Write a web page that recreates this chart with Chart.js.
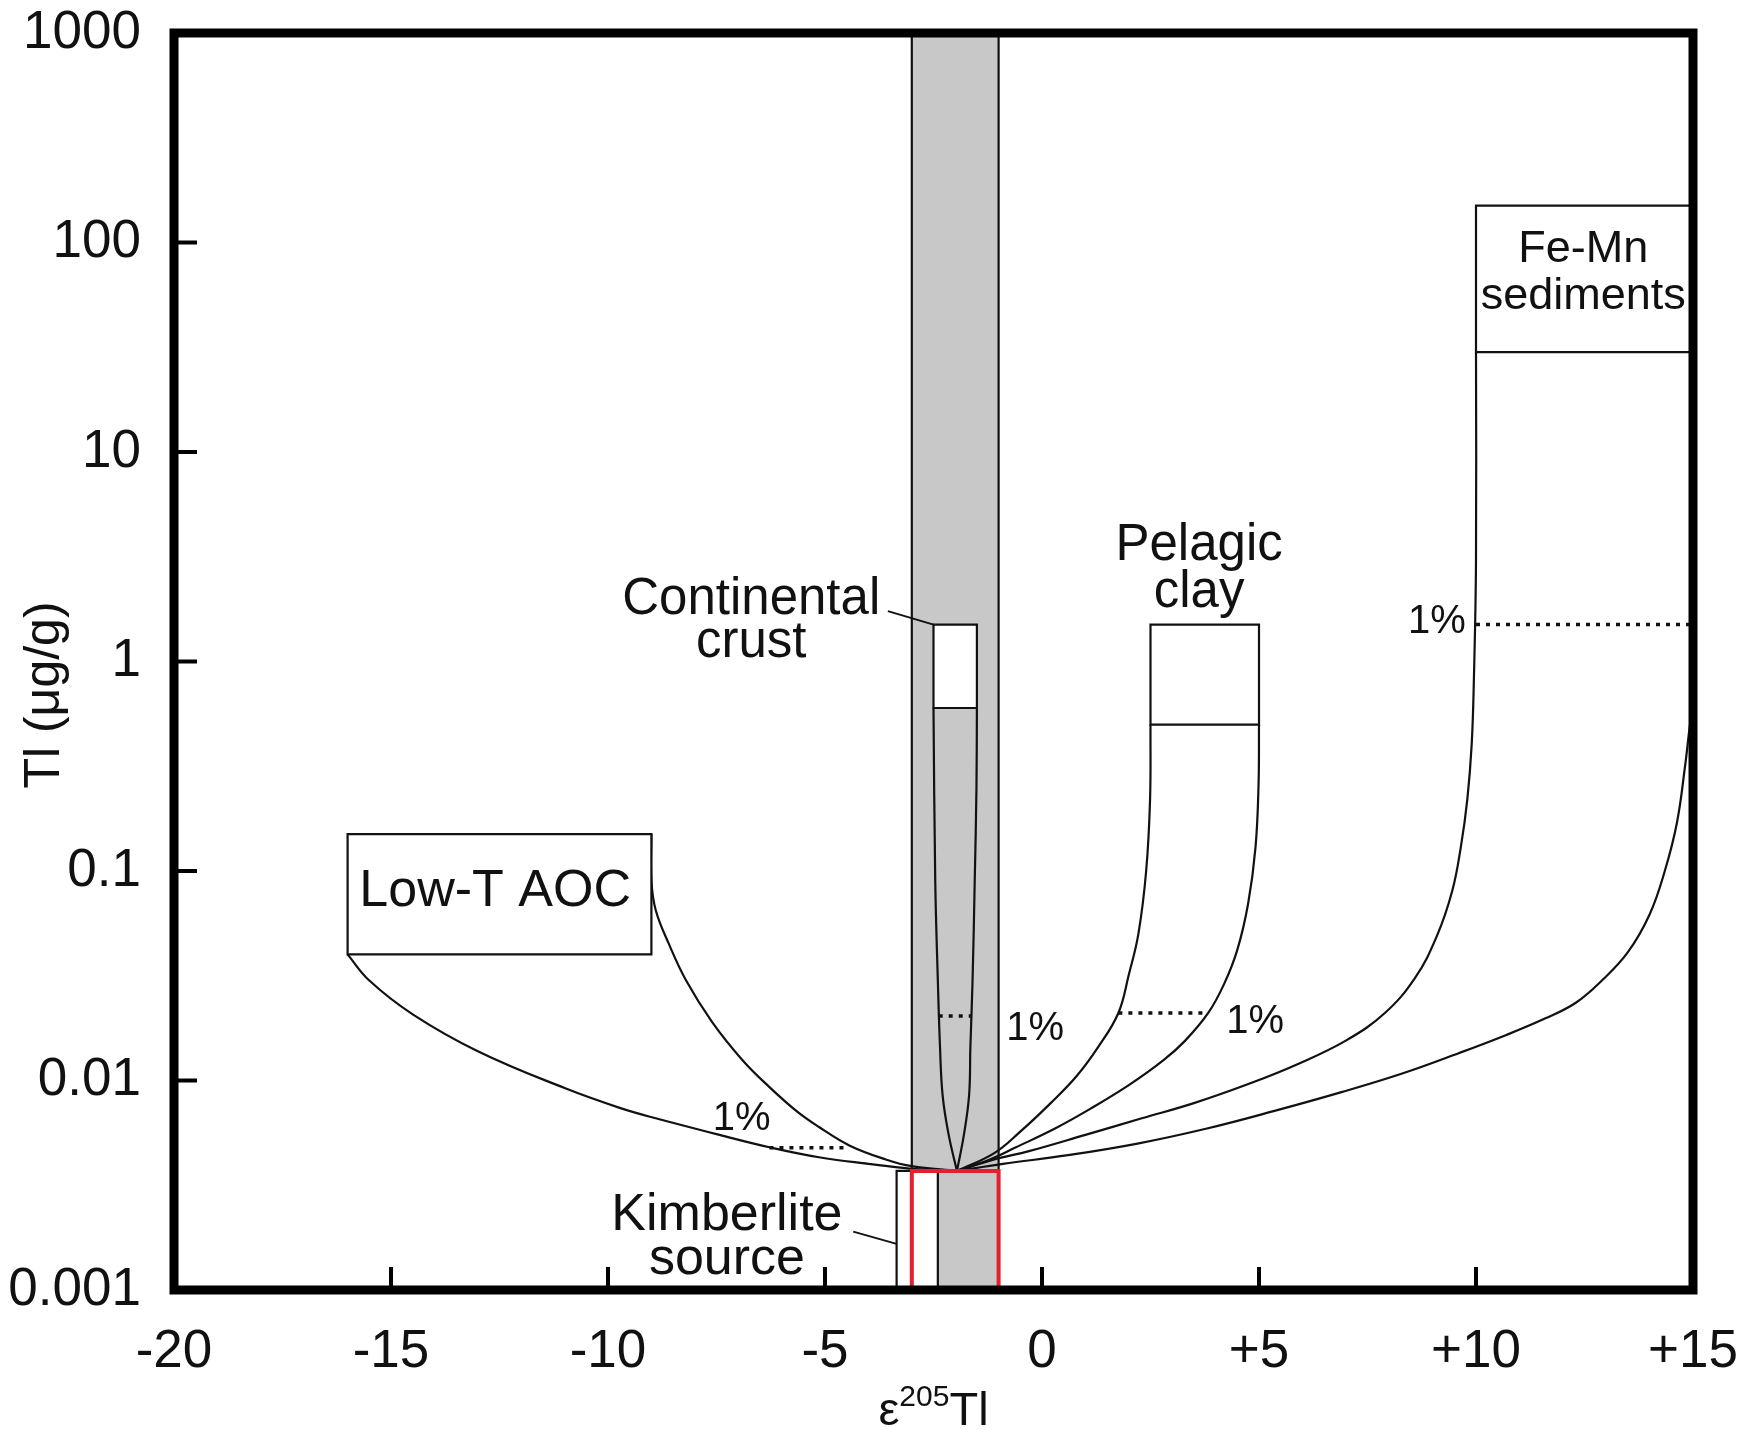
<!DOCTYPE html>
<html>
<head>
<meta charset="utf-8">
<script src="https://cdn.jsdelivr.net/npm/chart.js@4.4.1/dist/chart.umd.min.js"></script>
<style>
html,body{margin:0;padding:0;background:#ffffff;}
canvas{display:block;}
</style>
</head>
<body>
<canvas id="c" width="1745" height="1430" style="width:1745px;height:1430px"></canvas>
<script>
// ---------- axis ticks ----------
const xTickValues = [-20, -15, -10, -5, 0, 5, 10, 15];
const xTickLabels = ['-20', '-15', '-10', '-5', '0', '+5', '+10', '+15'];
const yTickValues = [0.001, 0.01, 0.1, 1, 10, 100, 1000];
const yTickLabels = ['0.001', '0.01', '0.1', '1', '10', '100', '1000'];

// ---------- reservoirs: [xMin, xMax, TlMin, TlMax] ----------
const mantleBand    = [-3, -1, 0.001, 1000];
const mantleBox     = [-3, -1, 0.001, 0.0037];
const kimberliteBox = [-3.35, -2.4, 0.001, 0.0037];
const contCrustBox  = [-2.5, -1.5, 0.6, 1.5];
const lowTAOCBox    = [-16, -9, 0.04, 0.15];
const pelagicBox    = [2.5, 5, 0.5, 1.5];
const feMnBox       = [10, 15, 30, 150];

// ---------- mixing curves [ε205Tl, Tl] ----------
const contCrustLeft  = [[-2.5,0.6],[-2.46,0.09],[-2.40,0.03],[-2.35,0.0145],[-2.29,0.0085],[-2.15,0.0055],[-1.96,0.0037]];
const contCrustRight = [[-1.5,0.6],[-1.51,0.25],[-1.55,0.09],[-1.60,0.03],[-1.65,0.0145],[-1.68,0.0085],[-1.80,0.0055],[-1.96,0.0037]];
const aocLeft  = [[-16,0.04],[-15.5,0.030],[-14.5,0.0207],[-13,0.0138],[-11,0.0092],[-9.73,0.0074],[-8.9,0.0066],[-7.43,0.0055],[-6.28,0.0048],[-5.14,0.0043],[-4.0,0.0040],[-3.05,0.0038],[-1.96,0.0037]];
const aocRight = [[-9,0.15],[-9,0.09],[-8.9,0.065],[-8.6,0.045],[-8.2,0.030],[-7.6,0.019],[-6.9,0.0125],[-6.28,0.0093],[-5.64,0.0071],[-5.14,0.0060],[-4.44,0.0049],[-3.6,0.0042],[-3.0,0.0039],[-1.96,0.0037]];
const pelagicLeft  = [[2.5,0.5],[2.49,0.22],[2.40,0.1],[2.22,0.05],[2.0,0.032],[1.76,0.021],[1.3,0.0145],[0.8,0.0105],[0.2,0.0078],[-0.5,0.0057],[-1.1,0.0045],[-1.96,0.0037]];
const pelagicRight = [[5,0.5],[4.99,0.26],[4.92,0.13],[4.75,0.07],[4.5,0.042],[4.2,0.029],[3.83,0.021],[3.3,0.0155],[2.8,0.0125],[2.0,0.0095],[1.1,0.0073],[0.3,0.0059],[-0.6,0.0048],[-1.2,0.0042],[-1.96,0.0037]];
const feMnLeft  = [[10,30],[10,3],[9.95,0.8],[9.9,0.4],[9.8,0.22],[9.65,0.13],[9.45,0.08],[9.1,0.049],[8.6,0.031],[7.9,0.021],[7.0,0.0155],[5.9,0.0120],[4.8,0.0097],[3.5,0.0078],[2.3,0.0066],[1.0,0.0055],[-0.3,0.0046],[-1.1,0.0042],[-1.96,0.0037]];
const feMnRight = [[15,0.62],[14.92,0.48],[14.82,0.32],[14.63,0.17],[14.35,0.1],[14.0,0.062],[13.5,0.041],[12.9,0.030],[12.3,0.0235],[11.6,0.0198],[10.7,0.0165],[9.6,0.0135],[8.3,0.0108],[6.9,0.0088],[5.4,0.0072],[3.8,0.0059],[2.2,0.0050],[0.6,0.0044],[-0.9,0.0040],[-1.96,0.0037]];

// ---------- 1 % mixing marks ----------
const aocOnePct       = [[-6.28,0.00478],[-4.44,0.00478]];
const contCrustOnePct = [[-2.38,0.0203],[-1.62,0.0203]];
const pelagicOnePct   = [[1.76,0.021],[3.83,0.021]];
const feMnOnePct      = [[10,1.5],[15,1.5]];

// ---------- leader lines ----------
const contCrustLeader  = [[-3.55,1.74],[-2.5,1.5]];
const kimberliteLeader = [[-4.35,0.0019],[-3.35,0.00166]];

// ---------- text labels (anchor = centre of baseline) ----------
const annotations = [
  {text:'Low-T AOC',   x:-12.6, y:0.0681, size:52},
  {text:'Continental', x:-6.7,  y:1.685,  size:51},
  {text:'crust',       x:-6.7,  y:1.05,   size:51},
  {text:'Pelagic',     x:3.62,  y:3.05,   size:51},
  {text:'clay',        x:3.62,  y:1.82,   size:51},
  {text:'Fe-Mn',       x:12.47, y:80.7,   size:45},
  {text:'sediments',   x:12.47, y:48.2,   size:45},
  {text:'Kimberlite',  x:-7.26, y:0.00193,size:52},
  {text:'source',      x:-7.26, y:0.00119,size:52},
  {text:'1%',          x:-6.92, y:0.0058, size:40},
  {text:'1%',          x:-0.16, y:0.0156, size:40},
  {text:'1%',          x:4.91,  y:0.01686,size:40},
  {text:'1%',          x:9.10,  y:1.37,   size:40}
];
const yTitle = 'Tl (μg/g)';

const FONT = '"Liberation Sans", Arial, Helvetica, sans-serif';
const INK = '#111111';

const pts = arr => arr.map(([x, y]) => ({x, y}));
const boxPts = ([x0, x1, y0, y1]) => pts([[x0,y0],[x0,y1],[x1,y1],[x1,y0],[x0,y0]]);

function curve(data, order) {
  return {data: pts(data), borderColor: INK, borderWidth: 2.2, tension: 0.4, fill: false, order};
}
function box(b, fillColor, order, stroke, width) {
  return {data: boxPts(b), borderColor: stroke || INK, borderWidth: width || 2.2, tension: 0,
          fill: fillColor ? 'shape' : false, backgroundColor: fillColor || 'transparent',
          borderCapStyle: 'square', borderJoinStyle: 'miter', order};
}
function dotted(data, order) {
  return {data: pts(data), borderColor: INK, borderWidth: 3.5, borderDash: [4, 6], tension: 0, fill: false, order};
}
function leader(data, order) {
  return {data: pts(data), borderColor: INK, borderWidth: 2, tension: 0, fill: false, order};
}

const datasets = [
  box(mantleBand, '#c8c8c8', 10),
  curve(contCrustLeft, 9), curve(contCrustRight, 9),
  box(contCrustBox, '#ffffff', 8),
  curve(aocLeft, 7), curve(aocRight, 7),
  curve(pelagicLeft, 7), curve(pelagicRight, 7),
  curve(feMnLeft, 7), curve(feMnRight, 7),
  box(lowTAOCBox, '#ffffff', 6), box(pelagicBox, '#ffffff', 6), box(feMnBox, '#ffffff', 6),
  dotted(aocOnePct, 5), dotted(contCrustOnePct, 5), dotted(pelagicOnePct, 5), dotted(feMnOnePct, 5),
  box(kimberliteBox, '#ffffff', 4),
  box(mantleBox, null, 3, '#e3202b', 4),
  leader(contCrustLeader, 2), leader(kimberliteLeader, 2)
];

const overlay = {
  id: 'overlay',
  afterDatasetsDraw(chart) {
    const {ctx, chartArea: a, scales: {x, y}} = chart;
    ctx.save();
    // frame
    ctx.strokeStyle = '#000';
    ctx.lineWidth = 9;
    ctx.lineJoin = 'miter';
    ctx.strokeRect(a.left, a.top, a.right - a.left, a.bottom - a.top);
    // inward ticks
    ctx.lineWidth = 4;
    x.ticks.forEach(t => {
      if (t.value <= x.min || t.value >= x.max) return;
      const px = x.getPixelForValue(t.value);
      ctx.beginPath(); ctx.moveTo(px, a.bottom); ctx.lineTo(px, a.bottom - 23); ctx.stroke();
    });
    y.ticks.forEach(t => {
      if (t.value <= y.min || t.value >= y.max) return;
      const py = y.getPixelForValue(t.value);
      ctx.beginPath(); ctx.moveTo(a.left, py); ctx.lineTo(a.left + 23, py); ctx.stroke();
    });
    // labels
    ctx.fillStyle = INK;
    ctx.textAlign = 'center';
    ctx.textBaseline = 'alphabetic';
    annotations.forEach(an => {
      ctx.font = an.size + 'px ' + FONT;
      ctx.fillText(an.text, x.getPixelForValue(an.x), y.getPixelForValue(an.y));
    });
    // y-axis title
    ctx.save();
    ctx.translate(45, 695);
    ctx.rotate(-Math.PI / 2);
    ctx.font = '50px ' + FONT;
    ctx.textBaseline = 'middle';
    ctx.fillText(yTitle, 0, 0);
    ctx.restore();
    // x-axis title: ε^205Tl
    const big = '47px ' + FONT, small = '30px ' + FONT;
    ctx.textAlign = 'left';
    ctx.textBaseline = 'alphabetic';
    ctx.font = big; const w1 = ctx.measureText('ε').width; const w3 = ctx.measureText('Tl').width;
    ctx.font = small; const w2 = ctx.measureText('205').width;
    const total = w1 + w2 + w3;
    let cx = (a.left + a.right) / 2 - total / 2;
    const base = 1425;
    ctx.font = big; ctx.fillText('ε', cx, base); cx += w1;
    ctx.font = small; ctx.fillText('205', cx, base - 19); cx += w2;
    ctx.font = big; ctx.fillText('Tl', cx, base);
    ctx.restore();
  }
};

const zeroPad = s => { s.paddingLeft = 0; s.paddingRight = 0; s.paddingTop = 0; s.paddingBottom = 0; };

new Chart(document.getElementById('c'), {
  type: 'line',
  data: {datasets},
  options: {
    responsive: false,
    animation: false,
    devicePixelRatio: 1,
    layout: {padding: {top: 33, right: 52, left: 0, bottom: 0}},
    elements: {point: {radius: 0, hoverRadius: 0}},
    plugins: {legend: {display: false}, tooltip: {enabled: false}},
    events: [],
    scales: {
      x: {
        type: 'linear', min: -20, max: 15, position: 'bottom',
        afterBuildTicks: s => { s.ticks = xTickValues.map(v => ({value: v})); },
        afterFit: s => { s.height = 140; zeroPad(s); },
        grid: {display: false}, border: {display: false},
        ticks: {
          autoSkip: false, maxRotation: 0, padding: 23, color: INK,
          font: {family: FONT, size: 53},
          callback: v => xTickLabels[xTickValues.indexOf(v)]
        }
      },
      y: {
        type: 'logarithmic', min: 0.001, max: 1000, position: 'left',
        afterBuildTicks: s => { s.ticks = yTickValues.map(v => ({value: v})); },
        afterFit: s => { s.width = 174; zeroPad(s); },
        grid: {display: false}, border: {display: false},
        ticks: {
          autoSkip: false, padding: 25, color: INK,
          font: {family: FONT, size: 53},
          callback: v => yTickLabels[yTickValues.indexOf(v)]
        }
      }
    }
  },
  plugins: [overlay]
});
</script>
</body>
</html>
